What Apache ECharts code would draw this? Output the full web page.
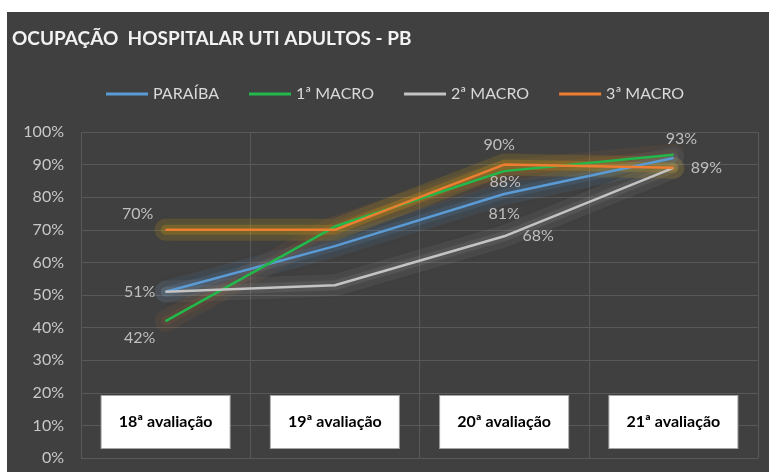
<!DOCTYPE html>
<html>
<head>
<meta charset="utf-8">
<script src="https://cdn.jsdelivr.net/npm/echarts@6/dist/echarts.min.js"></script>
<style>
  body { margin: 0; background: #fff; }
  #chart { position: absolute; left: 7px; top: 12px; width: 762px; height: 460px; }
</style>
</head>
<body>
<div id="chart"></div>
<script>
// dados
const categories = ['18ª avaliação', '19ª avaliação', '20ª avaliação', '21ª avaliação']
const seriesNames = ['PARAÍBA', '1ª MACRO', '2ª MACRO', '3ª MACRO']
const paraiba = [51, 65, 81, 92]
const macro1 = [42, 71, 88, 93]
const macro2 = [51, 53, 68, 89]
const macro3 = [70, 70, 90, 89]
const yTicks = [0, 10, 20, 30, 40, 50, 60, 70, 80, 90, 100]

const FONT = 'Lato, "Noto Sans", sans-serif'

// estilo de cada linha
const colors = ['#5b9bd5', '#22b84c', '#c4c4c4', '#ed7d31']
const glows = ['rgba(91,155,213,0.14)', 'rgba(237,125,49,0.09)', 'rgba(175,175,175,0.12)', 'rgba(255,192,0,0.17)']

// rótulos visíveis: índice do ponto -> deslocamento do texto
const labelSpots = [
  { 0: [-26, 0], 2: [0, 20] },
  { 0: [-26, 17], 2: [1, 11], 3: [8, -16] },
  { 2: [34, 0] },
  { 0: [-28, -16], 2: [-5, -20], 3: [33, 0] }
]

const values = [paraiba, macro1, macro2, macro3]

const chart = echarts.init(document.getElementById('chart'))

// brilho suave por baixo das linhas (duas camadas)
const glowSeries = []
;[[22, 0.7], [10, 1]].forEach(([w, k]) => {
  values.forEach((vals, i) => {
    glowSeries.push({
      name: seriesNames[i] + ' glow',
      type: 'line',
      data: vals,
      symbol: 'none',
      silent: true,
      lineStyle: {
        color: glows[i],
        opacity: k,
        width: w,
        cap: 'round',
        join: 'round',
        shadowBlur: 12,
        shadowColor: glows[i]
      },
      z: 1
    })
  })
})

const lineSeries = values.map((vals, i) => ({
  name: seriesNames[i],
  type: 'line',
  data: vals.map((v, j) => {
    const off = labelSpots[i][j]
    return {
      value: v,
      label: off ? {
        show: true,
        position: 'inside',
        offset: off,
        formatter: '{c}%',
        color: '#bfbfbf',
        fontSize: 16,
        fontFamily: FONT
      } : { show: false }
    }
  }),
  symbol: 'circle',
  symbolSize: 1,
  showSymbol: true,
  itemStyle: { color: colors[i] },
  lineStyle: { color: colors[i], width: 2.5 },
  emphasis: { disabled: true },
  z: 2 + i
}))

const option = {
  backgroundColor: '#404040',
  animation: false,
  title: {
    text: 'OCUPAÇÃO  HOSPITALAR UTI ADULTOS - PB',
    left: 0,
    top: 12,
    textStyle: { color: '#f2f2f2', fontSize: 19, fontWeight: 'bold', fontFamily: FONT }
  },
  legend: {
    data: seriesNames.map((n, i) => ({ name: n, icon: 'rect', itemStyle: { color: colors[i] } })),
    left: 94,
    top: 69,
    itemWidth: 42,
    itemHeight: 3,
    itemGap: 30,
    textStyle: { color: '#d9d9d9', fontSize: 16, fontFamily: FONT }
  },
  grid: { left: 74, right: 11, top: 120, bottom: 14 },
  xAxis: {
    type: 'category',
    data: categories,
    boundaryGap: true,
    axisLine: { show: false },
    axisTick: { show: false },
    splitLine: { show: true, lineStyle: { color: '#595959', width: 1 } },
    axisLabel: {
      inside: true,
      interval: 0,
      margin: 10,
      color: '#000',
      fontSize: 16,
      fontWeight: 'bold',
      fontFamily: FONT,
      backgroundColor: '#fff',
      borderColor: '#a6a6a6',
      borderWidth: 1,
      width: 128,
      align: 'center',
      lineHeight: 16,
      padding: [18, 0, 18, 0]
    }
  },
  yAxis: {
    type: 'value',
    min: 0,
    max: 100,
    interval: 10,
    axisLine: { show: false },
    axisTick: { show: false },
    splitLine: { lineStyle: { color: '#595959', width: 1 } },
    axisLabel: {
      margin: 17,
      color: '#c8c8c8',
      fontSize: 16,
      fontFamily: FONT,
      formatter: v => yTicks.includes(v) ? v + '%' : ''
    }
  },
  series: glowSeries.concat(lineSeries)
}

chart.setOption(option)
</script>
</body>
</html>
